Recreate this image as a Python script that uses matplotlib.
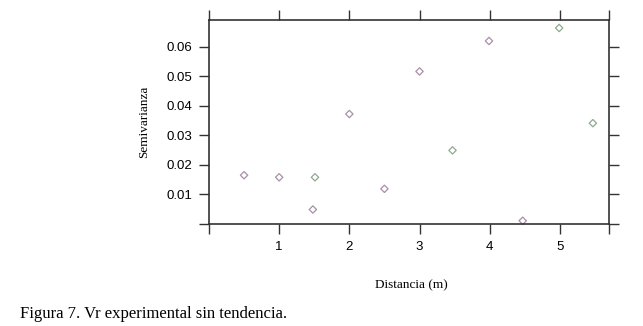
import matplotlib.pyplot as plt

# semivariograma experimental
distancia = [0.5, 1.0, 1.51, 1.48, 2.0, 2.5, 3.0, 3.47, 3.99, 4.47, 4.99, 5.47]
semivarianza = [0.0165, 0.0158, 0.0158, 0.0049, 0.0372, 0.0119, 0.0516, 0.0249, 0.0619, 0.0011, 0.0663, 0.0341]
grupo = ['p', 'p', 'g', 'p', 'p', 'p', 'p', 'g', 'p', 'p', 'g', 'g']

colores = {'p': '#a890a8', 'g': '#90a890'}
xticks = [0, 1, 2, 3, 4, 5, 5.7]
xlabels = ['', '1', '2', '3', '4', '5', '']
yticks = [0, 0.01, 0.02, 0.03, 0.04, 0.05, 0.06]
ylabels = ['', '0.01', '0.02', '0.03', '0.04', '0.05', '0.06']

fig = plt.figure(figsize=(6.43, 3.26), dpi=100)
ax = fig.add_axes([209 / 643, 102 / 326, 400 / 643, 204 / 326])

for x, y, g in zip(distancia, semivarianza, grupo):
    ax.scatter(x, y, marker='D', s=14, facecolors='none', edgecolors=colores[g],
               linewidths=0.9, clip_on=False)

ax.set_xlim(0, 5.7)
ax.set_ylim(0, 0.069)

ax.set_xticks(xticks)
ax.set_xticklabels(xlabels, family='Liberation Sans', fontsize=9.5)
ax.set_yticks(yticks)
ax.set_yticklabels(ylabels, family='Liberation Sans', fontsize=9.5)
ax.tick_params(direction='out', length=7, width=1, color='#333333', pad=5,
               top=True, right=True, labeltop=False, labelright=False)

for s in ax.spines.values():
    s.set_color('#333333')
    s.set_linewidth(1.2)

ax.set_xlabel('Distancia (m)', family='Liberation Serif', fontsize=9.5, labelpad=18)
ax.set_ylabel('Semivarianza', family='Liberation Serif', fontsize=9.5, labelpad=12)
ax.xaxis.set_label_coords(0.505, -0.27)

fig.text(20 / 643, 1 - 314 / 326, 'Figura 7. Vr experimental sin tendencia.',
         family='Liberation Serif', fontsize=12, va='center', ha='left')

fig.savefig('out.png', dpi=100)
